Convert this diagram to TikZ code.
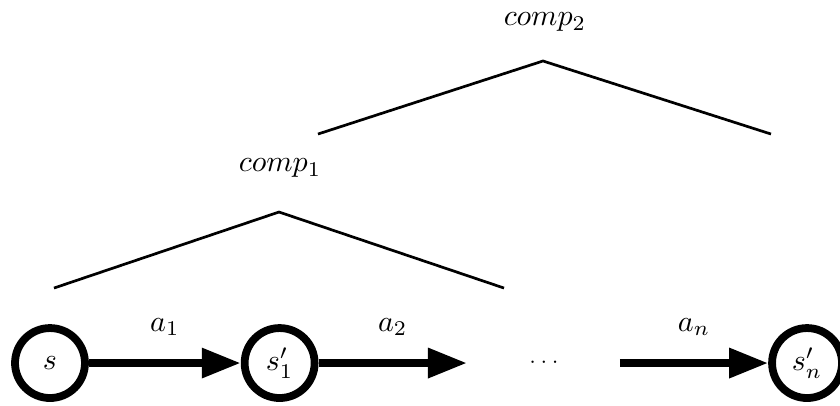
\documentclass[tikz,border=0pt]{standalone}
\usetikzlibrary{arrows.meta,positioning}

\begin{document}
\begin{tikzpicture}[
  node distance=1.78cm,
  state/.style={draw, circle, line width=2.6pt, minimum size=0.82cm, inner sep=0pt},
  arr/.style={-{Triangle[length=13pt,width=9.5pt]}, line width=2.6pt},
  lbl/.style={midway, above=4.5pt},
  tree/.style={line width=0.9pt}
]
\useasboundingbox (0,0) rectangle (9.845,4.747);

% the run of states
\node[state] (s) at (0.586,0.492) {$s$};
\node[state, right=of s] (s1) {$s'_1$};
\node[state, right=5.27cm of s1] (sn) {$s'_n$};
\node[font=\scriptsize] (dots) at (6.376,0.492) {$\cdots$};
\coordinate (e2) at (5.473,0.492);
\coordinate (b3) at (7.266,0.492);

\draw[arr] (s) -- node[lbl] {$a_1$} (s1);
\draw[arr] (s1) -- node[lbl] {$a_2$} (e2);
\draw[arr] (b3) -- node[lbl] {$a_n$} (sn);

% compositions above the run
\node (comp1) at (3.282,2.778) {$comp_1$};
\coordinate (c1l) at (0.633,1.371);
\coordinate (c1t) at (3.270,2.262);
\coordinate (c1r) at (5.907,1.371);
\draw[tree] (c1l) -- (c1t) -- (c1r);

\node (comp2) at (6.387,4.489) {$comp_2$};
\coordinate (c2l) at (3.727,3.176);
\coordinate (c2t) at (6.364,4.032);
\coordinate (c2r) at (9.036,3.176);
\draw[tree] (c2l) -- (c2t) -- (c2r);
\end{tikzpicture}
\end{document}
